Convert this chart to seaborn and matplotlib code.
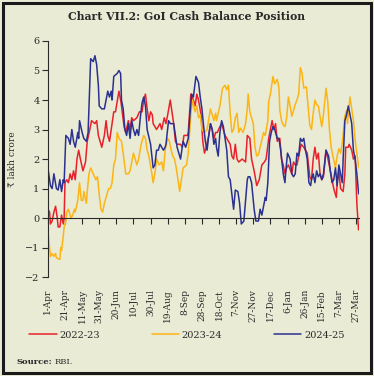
import pandas as pd
import matplotlib
matplotlib.use('Agg')
import matplotlib.pyplot as plt
import seaborn as sns
from matplotlib.patches import Rectangle

# day offsets from 1 April and cash balance (lakh crore)
red_days = [0, 2, 3, 5, 7, 9, 11, 12, 14, 16, 18, 19, 20, 22, 24, 26, 28, 30, 32, 34,
            36, 38, 41, 44, 46, 49, 51, 55, 57, 59, 61, 63, 66, 68, 70, 72, 74, 77, 79, 83,
            85, 86, 89, 91, 94, 96, 98, 100, 104, 107, 110, 112, 114, 116, 118, 120, 122, 123, 127, 131,
            133, 136, 138, 140, 143, 145, 147, 149, 151, 155, 157, 159, 163, 164, 167, 170, 172, 174, 176, 179,
            181, 183, 185, 188, 190, 192, 194, 196, 198, 201, 203, 207, 211, 213, 215, 217, 219, 221, 223, 227,
            231, 233, 236, 238, 241, 244, 247, 250, 253, 255, 258, 262, 264, 266, 268, 271, 273, 275, 277, 279,
            281, 285, 287, 289, 291, 293, 296, 299, 301, 303, 306, 308, 310, 312, 314, 316, 318, 320, 322, 325,
            328, 330, 334, 337, 338, 340, 342, 345, 347, 348, 351, 352, 355, 357, 359, 361, 363]
red_vals = [0.3, 0.2, -0.2, -0.1, 0.2, 0.4, 0.0, -0.3, -0.3, 0.1, -0.2, 0.0, 1.2, 1.3, 1.2, 1.5, 1.3, 1.6, 1.3, 2.0,
            2.3, 2.0, 1.6, 1.9, 2.6, 3.0, 3.3, 3.2, 3.3, 2.8, 2.6, 2.4, 2.8, 3.3, 2.8, 2.6, 3.0, 3.6, 3.6, 4.3,
            4.0, 3.8, 3.1, 2.9, 3.3, 3.0, 3.4, 3.3, 3.4, 3.6, 3.6, 4.0, 4.2, 3.7, 3.3, 3.6, 3.5, 3.2, 3.0, 3.2,
            3.0, 3.4, 3.2, 3.5, 4.0, 3.6, 3.2, 2.6, 2.5, 2.5, 2.4, 2.8, 2.8, 2.9, 4.2, 4.0, 3.8, 4.2, 4.0, 3.5,
            2.6, 2.2, 2.4, 2.8, 3.2, 3.0, 2.7, 2.9, 2.9, 3.1, 3.2, 2.8, 2.6, 2.5, 2.1, 2.0, 2.5, 2.0, 1.9, 2.0,
            1.9, 2.8, 2.7, 2.0, 1.6, 1.1, 1.3, 1.8, 1.9, 2.0, 2.7, 3.3, 3.0, 3.2, 2.6, 2.7, 2.0, 1.8, 1.5, 1.7,
            1.8, 1.5, 1.9, 1.8, 1.8, 2.1, 2.5, 2.4, 2.3, 2.2, 1.4, 1.3, 2.0, 2.4, 2.0, 2.2, 1.5, 1.3, 1.4, 2.3,
            1.9, 1.6, 1.0, 0.7, 1.2, 1.6, 1.0, 0.9, 1.5, 2.4, 2.4, 2.5, 2.3, 2.0, 2.1, 0.5, -0.4]

orange_days = [0, 3, 5, 7, 9, 10, 14, 15, 16, 18, 19, 21, 22, 24, 26, 27, 29, 31, 32, 35,
               37, 39, 41, 42, 45, 46, 48, 50, 53, 56, 58, 60, 62, 64, 66, 68, 71, 73, 75, 77,
               79, 81, 83, 86, 88, 91, 94, 96, 98, 100, 104, 106, 109, 112, 114, 116, 118, 121, 123, 125,
               127, 130, 133, 135, 137, 140, 142, 144, 146, 148, 150, 152, 154, 156, 158, 162, 164, 167, 169, 172,
               174, 176, 178, 180, 183, 186, 190, 194, 196, 197, 201, 204, 207, 209, 211, 213, 215, 217, 219, 221,
               223, 225, 228, 231, 233, 234, 236, 238, 240, 242, 244, 246, 248, 250, 252, 254, 257, 258, 260, 263,
               265, 268, 270, 271, 273, 275, 277, 279, 281, 283, 285, 287, 289, 291, 293, 295, 297, 299, 302, 304,
               306, 308, 310, 312, 314, 316, 318, 320, 322, 325, 327, 329, 331, 333, 335, 336, 338, 340, 342, 344,
               347, 349, 350, 353, 355, 357, 359, 361, 363, 365]
orange_vals = [-0.45, -1.3, -1.2, -1.3, -1.2, -1.35, -1.4, -1.0, -1.1, -0.6, -0.3, -0.1, 0.2, 0.3, 0.1, 0.0, 0.1, 0.3, 0.2, 0.6,
               1.2, 0.6, 0.6, 0.9, 0.5, 0.9, 1.5, 1.7, 1.5, 1.3, 1.4, 0.8, 0.3, 0.2, 0.5, 0.7, 1.0, 1.0, 1.2, 1.8,
               2.0, 2.9, 2.7, 2.6, 2.2, 1.5, 1.5, 1.6, 1.9, 2.2, 1.8, 2.0, 2.5, 2.8, 2.7, 2.3, 2.1, 1.6, 1.2, 1.5,
               2.0, 1.8, 1.9, 1.6, 2.3, 2.7, 2.6, 2.3, 2.1, 2.0, 1.7, 1.3, 0.9, 1.3, 1.7, 1.8, 2.2, 3.5, 4.0, 3.6,
               3.8, 3.4, 3.5, 3.0, 2.9, 3.0, 3.7, 3.3, 3.55, 3.3, 3.8, 4.4, 4.5, 4.35, 4.5, 3.55, 2.9, 3.0, 3.4, 3.55,
               2.9, 3.05, 2.9, 3.2, 3.7, 4.2, 3.6, 3.4, 3.2, 2.4, 2.1, 2.15, 2.4, 2.65, 2.9, 2.8, 3.3, 3.95, 4.2, 4.8,
               4.55, 4.7, 4.4, 3.65, 3.3, 3.15, 3.1, 3.4, 4.1, 3.8, 3.45, 3.65, 3.85, 4.0, 4.2, 5.1, 4.9, 4.4, 4.45, 3.8,
               3.15, 3.0, 3.55, 4.0, 3.85, 3.8, 3.45, 3.1, 3.5, 4.4, 3.95, 3.0, 2.4, 2.1, 1.85, 1.7, 2.1, 2.35, 2.2, 2.55,
               3.45, 3.65, 3.2, 4.1, 3.7, 3.3, 2.65, 2.2, 1.75, 1.6]

blue_days = [0, 3, 5, 7, 10, 12, 14, 16, 18, 19, 21, 24, 26, 28, 30, 32, 35, 36, 37, 40,
             42, 45, 47, 50, 53, 55, 57, 59, 60, 63, 66, 68, 70, 72, 74, 75, 77, 81, 83, 85,
             86, 88, 90, 92, 94, 96, 98, 100, 102, 104, 106, 108, 110, 112, 114, 116, 120, 123, 125, 127,
             129, 131, 135, 137, 138, 141, 143, 145, 147, 149, 151, 153, 155, 158, 161, 164, 166, 168, 170, 173,
             176, 178, 180, 182, 184, 186, 188, 190, 192, 194, 196, 197, 199, 201, 203, 205, 207, 209, 211, 213,
             215, 217, 219, 222, 224, 226, 229, 231, 233, 234, 236, 238, 241, 243, 246, 248, 250, 252, 254, 255,
             257, 259, 261, 263, 265, 268, 270, 272, 275, 277, 278, 280, 283, 285, 287, 289, 291, 293, 295, 297,
             299, 301, 303, 305, 307, 308, 310, 312, 314, 316, 318, 320, 322, 325, 328, 330, 332, 334, 336, 338,
             340, 342, 344, 345, 347, 349, 351, 353, 355, 357, 359, 361, 363, 364]
blue_vals = [1.7, 1.1, 1.0, 1.5, 1.0, 0.95, 1.3, 0.9, 1.3, 1.2, 2.8, 2.7, 2.5, 3.0, 2.6, 2.4, 2.9, 2.7, 3.3, 2.9,
             2.7, 2.6, 2.9, 5.4, 5.3, 5.5, 5.2, 4.5, 3.8, 3.7, 3.7, 4.0, 4.3, 4.1, 4.3, 4.0, 4.8, 4.9, 5.0, 4.9,
             4.0, 3.7, 3.0, 2.8, 3.2, 2.7, 3.3, 3.0, 2.8, 3.0, 2.8, 3.4, 3.9, 4.1, 3.8, 3.0, 2.5, 1.7, 1.8, 2.3,
             2.3, 2.5, 2.3, 2.4, 2.5, 3.3, 3.2, 3.2, 3.2, 2.8, 2.4, 2.2, 2.0, 2.6, 2.4, 2.7, 3.5, 4.2, 4.1, 4.8,
             4.6, 4.1, 3.7, 3.1, 2.6, 2.3, 2.8, 3.2, 3.0, 2.5, 2.7, 2.4, 2.1, 2.9, 3.3, 3.1, 2.7, 2.3, 1.4, 1.3,
             0.8, 0.3, 0.95, 0.9, 0.5, -0.2, -0.1, 0.6, 1.3, 1.4, 1.4, 1.2, 0.3, -0.1, -0.1, 0.3, 0.1, 0.4, 0.7, 0.6,
             1.2, 2.6, 2.9, 3.1, 3.0, 2.7, 2.7, 2.3, 1.5, 1.2, 1.6, 2.2, 2.0, 1.5, 1.4, 1.5, 2.2, 2.1, 2.7, 2.6,
             2.7, 2.3, 2.0, 1.2, 1.1, 1.3, 1.5, 1.2, 1.6, 1.4, 1.5, 1.3, 1.5, 2.3, 2.1, 1.6, 1.2, 1.3, 1.7, 1.1,
             1.8, 1.5, 1.2, 2.0, 3.3, 3.5, 3.8, 3.5, 3.2, 2.3, 2.0, 1.5, 0.85, 0.8]

years = ['2022-23', '2023-24', '2024-25']
tick_days = list(range(0, 361, 20))
tick_labels = ['1-Apr', '21-Apr', '11-May', '31-May', '20-Jun', '10-Jul', '30-Jul', '19-Aug', '8-Sep',
               '28-Sep', '18-Oct', '7-Nov', '27-Nov', '17-Dec', '6-Jan', '26-Jan', '15-Feb', '7-Mar', '27-Mar']

# long-form table for seaborn
df = pd.concat([
    pd.DataFrame({'day': red_days, 'value': red_vals, 'year': years[0]}),
    pd.DataFrame({'day': orange_days, 'value': orange_vals, 'year': years[1]}),
    pd.DataFrame({'day': blue_days, 'value': blue_vals, 'year': years[2]}),
])

palette = {'2022-23': '#E8212B', '2023-24': '#FDB515', '2024-25': '#2B3190'}
bg = '#E9EBD5'
ink = '#2a2a2a'

sns.set_style('ticks')
plt.rcParams['font.family'] = ['DejaVu Serif', 'DejaVu Sans']

fig = plt.figure(figsize=(3.74, 3.76), dpi=100, facecolor=bg)
ax = fig.add_axes([0.128, 0.263, 0.833, 0.628])
ax.set_facecolor(bg)

sns.lineplot(data=df, x='day', y='value', hue='year', palette=palette,
             linewidth=1.1, ax=ax, estimator=None, sort=False)

handles, labels = ax.get_legend_handles_labels()
ax.get_legend().remove()

# x axis line sits at zero; do this before styling ticks (it resets them)
for side in ['top', 'right']:
    ax.spines[side].set_visible(False)
ax.spines['bottom'].set_position(('data', 0))
for side in ['bottom', 'left']:
    ax.spines[side].set_color(ink)
    ax.spines[side].set_linewidth(0.8)

ax.set_xlim(0, 364)
ax.set_ylim(-2, 6)
ax.set_yticks(range(-2, 7))
ax.set_xticks(tick_days)
ax.set_xticklabels(tick_labels, rotation=90, fontsize=6.5, color=ink, va='top', ha='center')
ax.tick_params(axis='y', labelsize=7, colors=ink, length=4, width=0.8, pad=2)
ax.tick_params(axis='x', length=4, width=0.8, colors=ink, pad=47)

ax.set_xlabel('')
ax.set_ylabel('₹ lakh crore', fontsize=6.5, color=ink)
ax.yaxis.set_label_coords(-0.1, 0.5)

fig.text(0.5, 0.955, 'Chart VII.2: GoI Cash Balance Position', ha='center', va='center',
         fontsize=7.8, fontweight='bold', color=ink)

fig.legend(handles, labels, loc='center', bbox_to_anchor=(0.5, 0.109), ncol=3, frameon=False,
           fontsize=7, handlelength=2.8, handletextpad=0.3, columnspacing=5.3, labelcolor=ink)

fig.text(0.043, 0.037, 'Source:', fontsize=6, fontweight='bold', color=ink, va='center')
fig.text(0.147, 0.037, 'RBI.', fontsize=6, color=ink, va='center')

fig.patches.append(Rectangle((0.008, 0.008), 0.984, 0.984, transform=fig.transFigure,
                             fill=False, linewidth=2.2, edgecolor='#1a1a1a'))

fig.savefig('out.png', dpi=100, facecolor=bg)
